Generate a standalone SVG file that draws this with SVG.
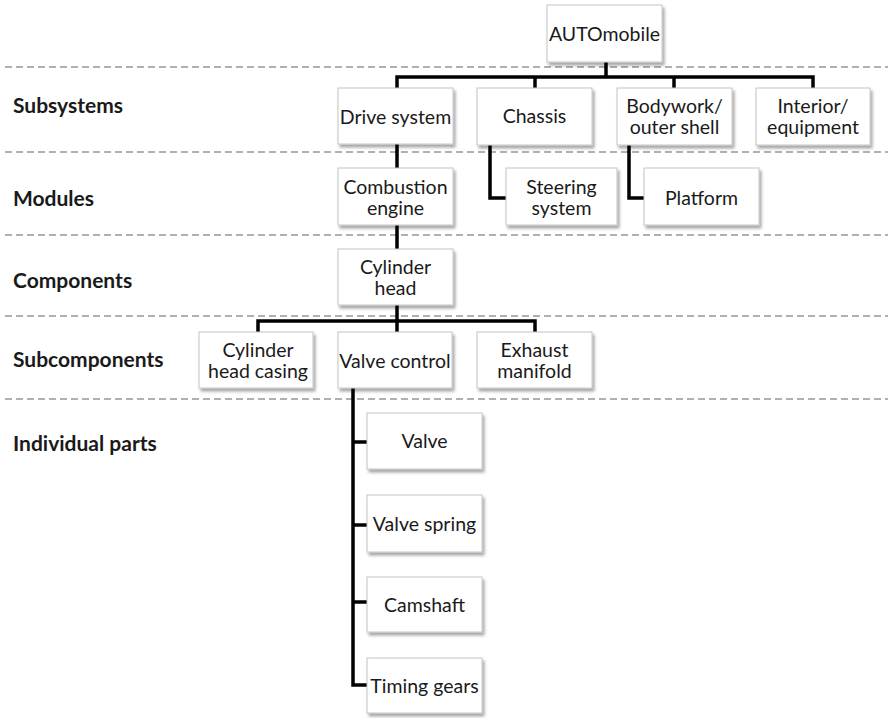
<svg xmlns="http://www.w3.org/2000/svg" width="888" height="718" viewBox="0 0 888 718">
  <style>
    .box { fill: #ffffff; stroke: #c4c4c4; stroke-width: 1; filter: url(#shadow); }
    .t { font-family: Lato, "Open Sans", "Liberation Sans", sans-serif; font-size: 19.5px; fill: #1a1a1a; text-anchor: middle; }
    .lvl { font-family: Lato, "Open Sans", "Liberation Sans", sans-serif; font-size: 21px; font-weight: bold; fill: #1a1a1a; }
    .sep { stroke: #b0b0b0; stroke-width: 2; stroke-dasharray: 7 4; fill: none; }
    .link { stroke: #000000; stroke-width: 3.5; fill: none; stroke-linejoin: miter; }
  </style>
  <defs>
    <filter id="shadow" x="-10%" y="-10%" width="130%" height="140%">
      <feDropShadow dx="2" dy="3" stdDeviation="1.5" flood-color="#000000" flood-opacity="0.35"/>
    </filter>
  </defs>

  <rect x="0" y="0" width="888" height="718" fill="#ffffff"/>

  <!-- level separators -->
  <g id="separators">
    <line class="sep" x1="5" y1="67" x2="888" y2="67"/>
    <line class="sep" x1="5" y1="152" x2="888" y2="152"/>
    <line class="sep" x1="5" y1="235" x2="888" y2="235"/>
    <line class="sep" x1="5" y1="316" x2="888" y2="316"/>
    <line class="sep" x1="5" y1="399" x2="888" y2="399"/>
  </g>

  <!-- level labels -->
  <g id="levels">
    <text class="lvl" x="13" y="113">Subsystems</text>
    <text class="lvl" x="13" y="206">Modules</text>
    <text class="lvl" x="13" y="288">Components</text>
    <text class="lvl" x="13" y="367">Subcomponents</text>
    <text class="lvl" x="13" y="451">Individual parts</text>
  </g>

  <!-- connectors -->
  <g id="connectors">
    <path class="link" d="M606,62 V77"/>
    <path class="link" d="M397,88 V77 H813 V88"/>
    <path class="link" d="M535,77 V88"/>
    <path class="link" d="M674,77 V88"/>
    <path class="link" d="M397,144 V168"/>
    <path class="link" d="M490,145 V198 H506"/>
    <path class="link" d="M629,145 V198 H644"/>
    <path class="link" d="M397,225 V249"/>
    <path class="link" d="M397,305 V321"/>
    <path class="link" d="M258,332 V321 H535 V332"/>
    <path class="link" d="M397,321 V332"/>
    <path class="link" d="M353,388 V685 H367"/>
    <path class="link" d="M353,442 H367"/>
    <path class="link" d="M353,525 H367"/>
    <path class="link" d="M353,602 H367"/>
  </g>

  <g id="automobile">
    <rect class="box" x="547" y="5" width="115" height="57"/>
    <text class="t" x="604.5" y="41">AUTOmobile</text>
  </g>

  <g id="drive-system">
    <rect class="box" x="338" y="88" width="115" height="56"/>
    <text class="t" x="395.5" y="124">Drive system</text>
  </g>
  <g id="chassis">
    <rect class="box" x="477" y="88" width="115" height="57"/>
    <text class="t" x="534.5" y="123">Chassis</text>
  </g>
  <g id="bodywork">
    <rect class="box" x="617" y="88" width="115" height="57"/>
    <text class="t" x="674.5" y="113">Bodywork/</text>
    <text class="t" x="674.5" y="134">outer shell</text>
  </g>
  <g id="interior">
    <rect class="box" x="756" y="88" width="114" height="57"/>
    <text class="t" x="813" y="113">Interior/</text>
    <text class="t" x="813" y="134">equipment</text>
  </g>

  <g id="combustion-engine">
    <rect class="box" x="338" y="168" width="115" height="57"/>
    <text class="t" x="395.5" y="194">Combustion</text>
    <text class="t" x="395.5" y="215">engine</text>
  </g>
  <g id="steering-system">
    <rect class="box" x="506" y="168" width="111" height="57"/>
    <text class="t" x="561.5" y="194">Steering</text>
    <text class="t" x="561.5" y="215">system</text>
  </g>
  <g id="platform">
    <rect class="box" x="644" y="168" width="115" height="57"/>
    <text class="t" x="701.5" y="205">Platform</text>
  </g>

  <g id="cylinder-head">
    <rect class="box" x="338" y="249" width="115" height="56"/>
    <text class="t" x="395.5" y="274">Cylinder</text>
    <text class="t" x="395.5" y="295">head</text>
  </g>

  <g id="cylinder-head-casing">
    <rect class="box" x="199" y="332" width="114" height="56"/>
    <text class="t" x="258" y="357">Cylinder</text>
    <text class="t" x="258" y="378">head casing</text>
  </g>
  <g id="valve-control">
    <rect class="box" x="338" y="332" width="114" height="56"/>
    <text class="t" x="395" y="368">Valve control</text>
  </g>
  <g id="exhaust-manifold">
    <rect class="box" x="477" y="332" width="115" height="56"/>
    <text class="t" x="534.5" y="357">Exhaust</text>
    <text class="t" x="534.5" y="378">manifold</text>
  </g>

  <g id="valve">
    <rect class="box" x="367" y="413" width="115" height="56"/>
    <text class="t" x="424.5" y="448">Valve</text>
  </g>
  <g id="valve-spring">
    <rect class="box" x="367" y="495" width="115" height="57"/>
    <text class="t" x="424.5" y="531">Valve spring</text>
  </g>
  <g id="camshaft">
    <rect class="box" x="367" y="577" width="115" height="55"/>
    <text class="t" x="424.5" y="612">Camshaft</text>
  </g>
  <g id="timing-gears">
    <rect class="box" x="367" y="658" width="115" height="55"/>
    <text class="t" x="424.5" y="693">Timing gears</text>
  </g>
</svg>
